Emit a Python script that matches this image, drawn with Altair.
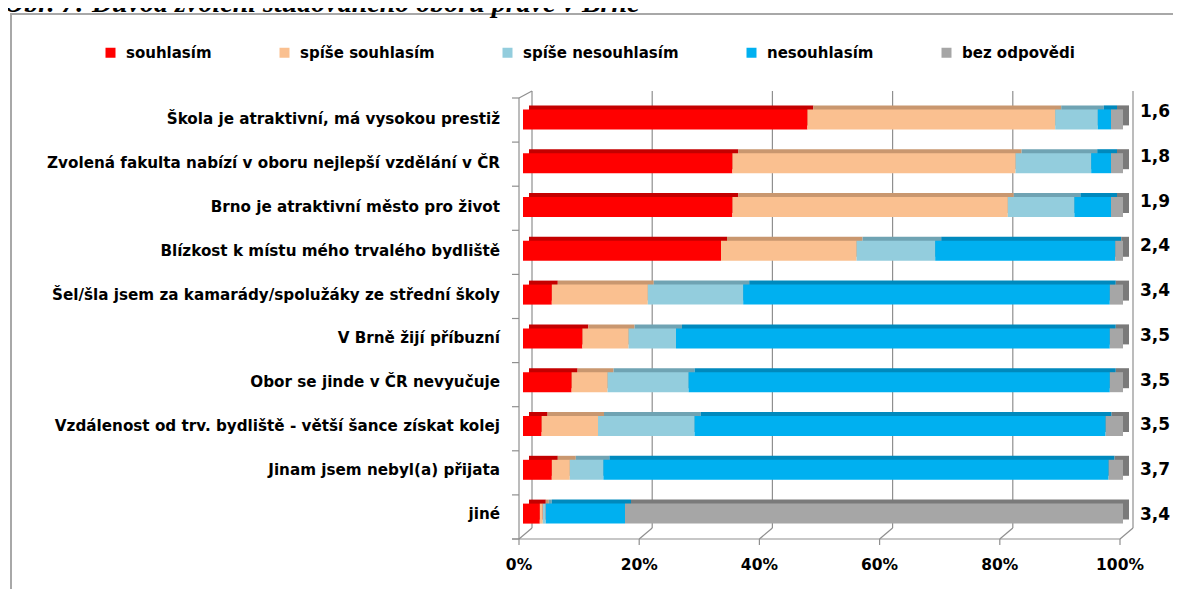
import altair as alt
import pandas as pd

# ---------------- data ----------------
title_text = "Obr. 7: Důvod zvolení studovaného oboru právě v Brně"

categories = [
    "Škola je atraktivní, má vysokou prestiž",
    "Zvolená fakulta nabízí v oboru nejlepší vzdělání v ČR",
    "Brno je atraktivní město pro život",
    "Blízkost k místu mého trvalého bydliště",
    "Šel/šla jsem za kamarády/spolužáky ze střední školy",
    "V Brně žijí příbuzní",
    "Obor se jinde v ČR nevyučuje",
    "Vzdálenost od trv. bydliště - větší šance získat kolej",
    "Jinam jsem nebyl(a) přijata",
    "jiné",
]
series = ["souhlasím", "spíše souhlasím", "spíše nesouhlasím", "nesouhlasím", "bez odpovědi"]

souhlasim = [47.4, 34.9, 34.9, 33.0, 4.8, 9.9, 8.1, 3.1, 4.8, 2.8]
spise_souhlasim = [41.3, 47.2, 45.9, 22.6, 16.0, 7.7, 6.0, 9.4, 3.0, 0.5]
spise_nesouhlasim = [7.1, 12.6, 11.1, 13.1, 15.9, 7.9, 13.5, 16.1, 5.6, 0.5]
nesouhlasim = [2.2, 3.3, 6.1, 30.0, 61.1, 72.3, 70.2, 68.5, 84.2, 13.2]
bez_odpovedi = [2.0, 2.0, 2.0, 1.3, 2.2, 2.2, 2.2, 2.9, 2.4, 83.0]

means = ["1,6", "1,8", "1,9", "2,4", "3,4", "3,5", "3,5", "3,5", "3,7", "3,4"]

tick_values = [0.0, 0.2, 0.4, 0.6, 0.8, 1.0]
tick_labels = ["0%", "20%", "40%", "60%", "80%", "100%"]

# ---------------- styles ----------------
front_colors = ["#ff0000", "#fac090", "#93cddd", "#00b0f0", "#a6a6a6"]
dark_colors = ["#c40000", "#c9976f", "#6fa3b3", "#0089bd", "#7a7a7a"]
FONT = "DejaVu Sans"
LINE = "#8f8f8f"

# ---------------- tables ----------------
values_by_series = [souhlasim, spise_souhlasim, spise_nesouhlasim, nesouhlasim, bez_odpovedi]
rows = []
for i, cat in enumerate(categories):
    for k, s in enumerate(series):
        rows.append({"cat": cat, "series": s, "k": k, "pct": values_by_series[k][i]})
bars_df = pd.DataFrame(rows)
means_df = pd.DataFrame({"idx": list(range(len(means))), "mean": means})
cats_df = pd.DataFrame({"cat": categories})
ticks_df = pd.DataFrame({"t": tick_values, "label": tick_labels})
bounds_df = pd.DataFrame({"b": list(range(len(categories) + 1))})
zero_df = pd.DataFrame({"t": [0.0]})
title_df = pd.DataFrame({"title": [title_text]})

# ---------------- scales (canvas px) ----------------
x_front = alt.Scale(domain=[0, 1], range=[511, 1112])
x_bar = alt.Scale(domain=[0, 1], range=[515, 1115])
y_bar = alt.Scale(domain=categories, range=[89.5, 527.5],
                  paddingInner=0.5434, paddingOuter=0.2717)
y_bound = alt.Scale(domain=[0, len(categories)], range=[90, 531])
y_mean = alt.Scale(domain=[0, len(means) - 1], range=[104, 507])

DX = 13  # depth of the walls
TOP_F, TOP_B, BOT_F, BOT_B = 90, 83, 531, 520

# ---------------- frame ----------------
border_top = alt.Chart(title_df).mark_rule(color="#a8a8a8", strokeWidth=2).encode(
    x=alt.value(2), x2=alt.value(1165), y=alt.value(6)
)
border_left = alt.Chart(title_df).mark_rule(color="#a8a8a8", strokeWidth=2).encode(
    x=alt.value(3), y=alt.value(5), y2=alt.value(581)
)
title = alt.Chart(title_df).mark_text(
    font="Liberation Serif", fontSize=28, fontStyle="italic", fontWeight="bold",
    align="left", baseline="alphabetic", color="#000000"
).encode(x=alt.value(-4), y=alt.value(4), text="title:N")

# ---------------- 3D walls ----------------
grid = alt.Chart(ticks_df).mark_rule(color=LINE, strokeWidth=1.2, xOffset=DX).encode(
    x=alt.X("t:Q", scale=x_front, axis=None), y=alt.value(TOP_B), y2=alt.value(BOT_B)
)
floor_slant = alt.Chart(ticks_df).mark_rule(color=LINE, strokeWidth=1.2, x2Offset=DX).encode(
    x=alt.X("t:Q", scale=x_front, axis=None), x2="t:Q", y=alt.value(BOT_F), y2=alt.value(BOT_B)
)
floor_ticks = alt.Chart(ticks_df).mark_rule(color=LINE, strokeWidth=1.2).encode(
    x=alt.X("t:Q", scale=x_front, axis=None), y=alt.value(BOT_F), y2=alt.value(BOT_F + 6)
)
floor_front = alt.Chart(zero_df).mark_rule(color=LINE, strokeWidth=1.2).encode(
    x=alt.value(504), x2=alt.value(1112), y=alt.value(BOT_F)
)
left_front = alt.Chart(zero_df).mark_rule(color=LINE, strokeWidth=1.2).encode(
    x=alt.X("t:Q", scale=x_front, axis=None), y=alt.value(TOP_F), y2=alt.value(BOT_F)
)
top_slant = alt.Chart(zero_df).mark_rule(color=LINE, strokeWidth=1.2, x2Offset=DX).encode(
    x=alt.X("t:Q", scale=x_front, axis=None), x2="t:Q", y=alt.value(TOP_F), y2=alt.value(TOP_B)
)
left_ticks = alt.Chart(bounds_df).mark_rule(color=LINE, strokeWidth=1.2).encode(
    x=alt.value(504), x2=alt.value(511), y=alt.Y("b:Q", scale=y_bound, axis=None)
)

# ---------------- bars ----------------
dark = alt.Chart(bars_df).mark_bar(xOffset=6, x2Offset=6, yOffset=-4, y2Offset=-4, strokeWidth=0).encode(
    x=alt.X("pct:Q", stack="normalize", scale=x_bar, axis=None),
    y=alt.Y("cat:N", scale=y_bar, axis=None),
    color=alt.Color("series:N", scale=alt.Scale(domain=series, range=dark_colors), legend=None),
    order=alt.Order("k:Q"),
)
front = alt.Chart(bars_df).mark_bar(strokeWidth=0).encode(
    x=alt.X("pct:Q", stack="normalize", scale=x_bar, axis=None),
    y=alt.Y("cat:N", scale=y_bar, axis=None),
    color=alt.Color(
        "series:N",
        scale=alt.Scale(domain=series, range=front_colors),
        legend=alt.Legend(
            orient="none", legendX=95, legendY=37, direction="horizontal", title=None,
            symbolType="square", symbolSize=100, symbolStrokeWidth=0,
            labelFont=FONT, labelFontSize=15, labelFontWeight="bold", labelColor="#000000",
            labelOffset=8, columnPadding=65, padding=0, labelLimit=400,
        ),
    ),
    order=alt.Order("k:Q"),
)

# ---------------- texts ----------------
cat_labels = alt.Chart(cats_df).mark_text(
    font=FONT, fontSize=15.2, fontWeight="bold", align="right", baseline="middle", color="#000000"
).encode(
    x=alt.value(492),
    y=alt.Y("cat:N", scale=y_bar, axis=None, bandPosition=0.5),
    text="cat:N",
)
mean_labels = alt.Chart(means_df).mark_text(
    font=FONT, fontSize=17, fontWeight="bold", align="center", baseline="middle", color="#000000"
).encode(
    x=alt.value(1147),
    y=alt.Y("idx:Q", scale=y_mean, axis=None),
    text="mean:N",
)
x_labels = alt.Chart(ticks_df).mark_text(
    font=FONT, fontSize=15.5, fontWeight="bold", align="center", baseline="middle", color="#000000"
).encode(
    x=alt.X("t:Q", scale=x_front, axis=None),
    y=alt.value(557),
    text="label:N",
)

chart = alt.layer(
    border_top, border_left, title,
    grid, floor_slant, floor_ticks, floor_front, left_front, top_slant, left_ticks,
    dark, front,
    cat_labels, mean_labels, x_labels,
).resolve_scale(
    x="independent", y="independent", color="independent"
).properties(
    width=1165, height=581, padding=0,
    autosize=alt.AutoSizeParams(type="none"),
).configure_view(stroke=None)

chart.save("out.html", embed_options={"renderer": "svg", "actions": False})
